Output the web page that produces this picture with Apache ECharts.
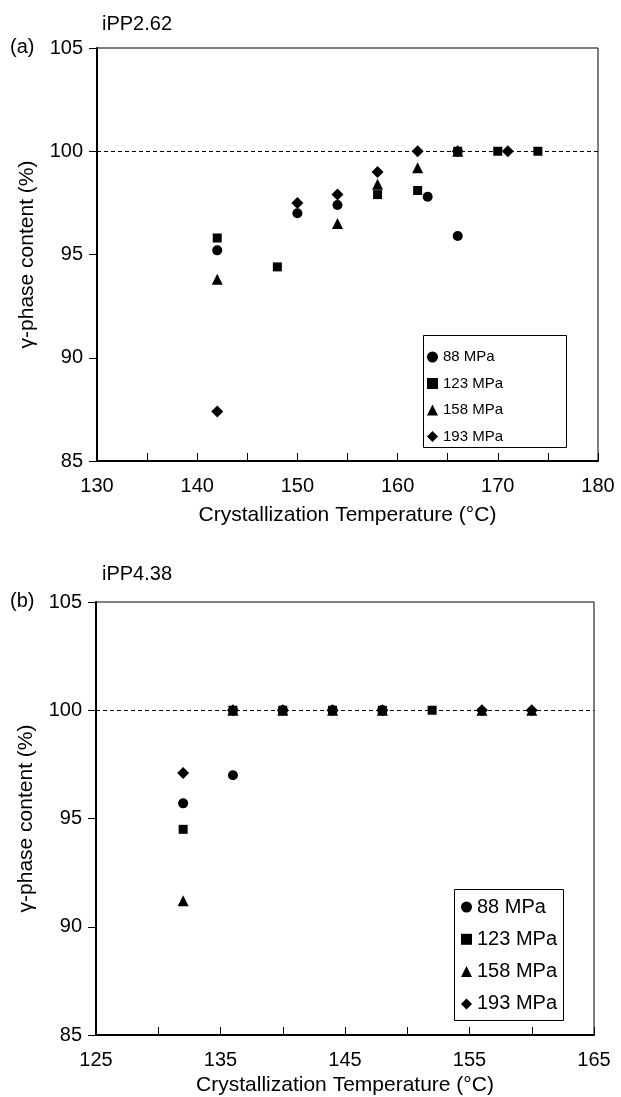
<!DOCTYPE html>
<html>
<head>
<meta charset="utf-8">
<script src="https://cdn.jsdelivr.net/npm/echarts@6/dist/echarts.min.js"></script>
<style>
  html, body { margin: 0; padding: 0; background: #fff; }
  #main { width: 621px; height: 1097px; }
</style>
</head>
<body>
<div id="main"></div>
<script>
// panel (a) iPP2.62
const aT88 = [142, 150, 154, 163, 166];
const aV88 = [95.2, 97.0, 97.4, 97.8, 95.9];
const aT123 = [142, 148, 158, 162, 166, 170, 174];
const aV123 = [95.8, 94.4, 97.9, 98.1, 100, 100, 100];
const aT158 = [142, 154, 158, 162, 166];
const aV158 = [93.8, 96.5, 98.4, 99.2, 100];
const aT193 = [142, 150, 154, 158, 162, 166, 171];
const aV193 = [87.4, 97.5, 97.9, 99.0, 100, 100, 100];

// panel (b) iPP4.38
const bT88 = [132, 136, 140, 144, 148];
const bV88 = [95.7, 97.0, 100, 100, 100];
const bT123 = [132, 136, 140, 144, 148, 152];
const bV123 = [94.5, 100, 100, 100, 100, 100];
const bT158 = [132, 136, 140, 144, 148, 156, 160];
const bV158 = [91.2, 100, 100, 100, 100, 100, 100];
const bT193 = [132, 136, 140, 144, 148, 156, 160];
const bV193 = [97.1, 100, 100, 100, 100, 100, 100];

const pressures = ['88 MPa', '123 MPa', '158 MPa', '193 MPa'];
const symbols = ['circle', 'rect', 'triangle', 'diamond'];
const symbolSizes = [10, 9, 11, 12];
const refLine = 100;

const FONT = 'Liberation Sans';
const chart = echarts.init(document.getElementById('main'));

function pairs(xs, ys) {
  return xs.map((x, i) => [x, ys[i]]);
}

function makeSeries(idx, sets) {
  return sets.map((s, i) => {
    const item = {
      name: pressures[i],
      type: 'scatter',
      xAxisIndex: idx,
      yAxisIndex: idx,
      symbol: symbols[i],
      symbolSize: symbolSizes[i],
      itemStyle: { color: '#000', opacity: 1 },
      data: pairs(s[0], s[1])
    };
    if (i === 0) {
      item.markLine = {
        silent: true,
        symbol: 'none',
        label: { show: false },
        lineStyle: { color: '#000', type: [4, 3], width: 1 },
        data: [{ yAxis: refLine }]
      };
    }
    return item;
  });
}

function xAxisFor(idx, min, max, labelStart, gap) {
  return {
    type: 'value',
    gridIndex: idx,
    min: min,
    max: max,
    interval: 5,
    name: 'Crystallization Temperature (°C)',
    nameLocation: 'middle',
    nameGap: gap,
    nameTextStyle: { fontFamily: FONT, fontSize: 21, color: '#000' },
    axisLine: { lineStyle: { color: '#000', width: 2 } },
    axisTick: { inside: true, length: 8, lineStyle: { color: '#000', width: 1 } },
    axisLabel: {
      fontFamily: FONT, fontSize: 20, color: '#000', margin: 15,
      formatter: v => ((v - labelStart) % 10 === 0 ? String(v) : '')
    },
    splitLine: { show: false }
  };
}

function yAxisFor(idx) {
  return {
    type: 'value',
    gridIndex: idx,
    min: 85,
    max: 105,
    interval: 5,
    name: 'γ-phase content (%)',
    nameLocation: 'middle',
    nameRotate: 90,
    nameGap: 59,
    nameTextStyle: { fontFamily: FONT, fontSize: 21, color: '#000' },
    axisLine: { lineStyle: { color: '#000', width: 2 } },
    axisTick: { inside: false, length: 8, lineStyle: { color: '#000', width: 1 } },
    axisLabel: { fontFamily: FONT, fontSize: 20, color: '#000', margin: 14 },
    splitLine: { show: false }
  };
}

function legendFor(left, top, size, lh, gap) {
  return {
    orient: 'vertical',
    left: left,
    top: top,
    padding: 0,
    itemGap: gap,
    itemWidth: 11,
    itemHeight: 11,
    data: pressures,
    selectedMode: false,
    textStyle: { fontFamily: FONT, fontSize: size, color: '#000', lineHeight: lh }
  };
}

function txt(x, y, s) {
  return {
    type: 'text', left: x, top: y,
    style: { text: s, fontFamily: FONT, fontSize: 20, fill: '#000' }
  };
}

function box(x, y, w, h) {
  return {
    type: 'rect', left: x, top: y, z: 0,
    shape: { width: w, height: h },
    style: { fill: '#fff', stroke: '#000', lineWidth: 1 }
  };
}

chart.setOption({
  animation: false,
  backgroundColor: '#fff',
  grid: [
    { left: 97, right: 23, top: 48, height: 413, show: true, borderColor: '#000', borderWidth: 1 },
    { left: 96, right: 27, top: 602, height: 434, show: true, borderColor: '#000', borderWidth: 1 }
  ],
  xAxis: [xAxisFor(0, 130, 180, 130, 44), xAxisFor(1, 125, 165, 125, 40)],
  yAxis: [yAxisFor(0), yAxisFor(1)],
  legend: [
    legendFor(427, 348, 15, 18, 8.5),
    legendFor(461, 896, 20, 22, 10.3)
  ],
  graphic: [
    box(423, 335, 143, 112),
    box(454, 889, 109, 131),
    txt(10, 37, '(a)'),
    txt(102, 14, 'iPP2.62'),
    txt(10, 591, '(b)'),
    txt(102, 564, 'iPP4.38')
  ],
  series: makeSeries(0, [[aT88, aV88], [aT123, aV123], [aT158, aV158], [aT193, aV193]])
    .concat(makeSeries(1, [[bT88, bV88], [bT123, bV123], [bT158, bV158], [bT193, bV193]]))
});
</script>
</body>
</html>
